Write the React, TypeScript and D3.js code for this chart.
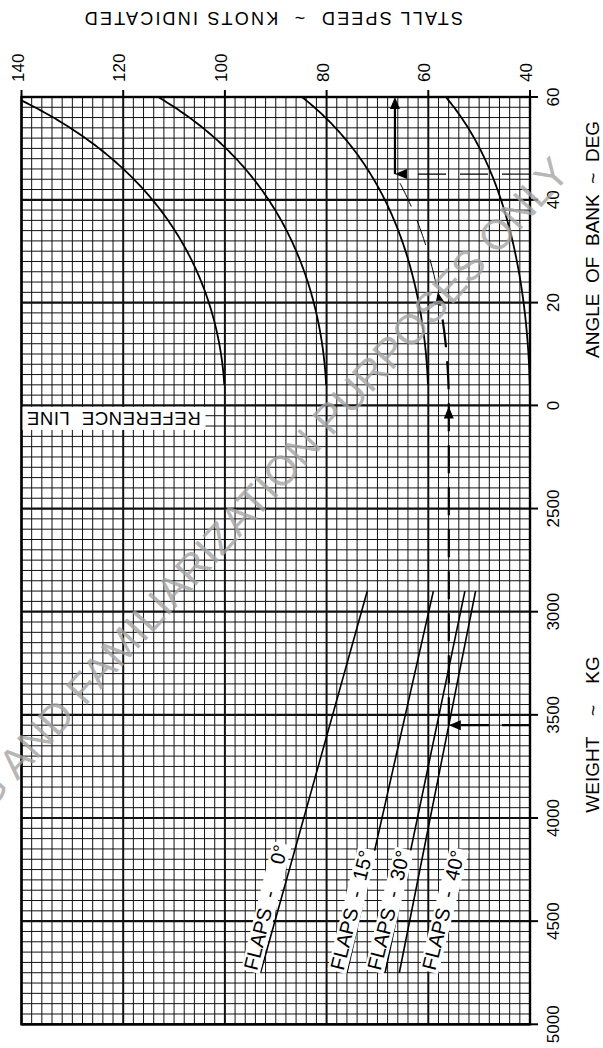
import React from 'react';
import * as d3 from 'd3';

// Stall speed chart: weight / flap setting -> reference line -> angle of bank.

const speedTicks = [140, 120, 100, 80, 60, 40];
const angleTicks = [0, 20, 40, 60];
const weightTicks = [2500, 3000, 3500, 4000, 4500, 5000];

// Wings-level stall speed (kt) at which each angle-of-bank curve starts
const bankRefSpeeds = [100, 80, 60, 40];
const bankCurveFrom = 4; // deg

// Flap lines: stall speed (kt) at the light and heavy end of each line
const flapLabels = ['   0°', '15°', '30°', '40°'];
const flapWeights = [2900, 4750];
const flapSpeedsLight = [72, 59, 52.8, 50.7];
const flapSpeedsHeavy = [93, 76, 68.5, 65.7];

// Worked example
const exampleWeight = 3550;
const exampleFlap = 3;
const exampleBank = 45;
const exampleArrowBank = 22;

const FONT = '"Liberation Sans", Arial, Helvetica, sans-serif';

function measure(text: string, size: number): number {
  const c = document.createElement('canvas').getContext('2d');
  if (!c) return text.length * size * 0.6;
  c.font = `${size}px "Liberation Sans"`;
  return c.measureText(text).width;
}

function arrowHead(tip: [number, number], dir: [number, number], len = 12, half = 5) {
  const n = Math.hypot(dir[0], dir[1]);
  const ux = dir[0] / n, uy = dir[1] / n;
  const bx = tip[0] - ux * len, by = tip[1] - uy * len;
  const px = -uy, py = ux;
  return `${tip[0]},${tip[1]} ${bx + px * half},${by + py * half} ${bx - px * half},${by - py * half}`;
}

export default function App() {
  const W = 603, H = 1048;
  const x = d3.scaleLinear().domain([140, 40]).range([21.5, 530]);
  const yA = d3.scaleLinear().domain([0, 60]).range([405.4, 97]);
  const yW = d3.scaleLinear().domain([2000, 5000]).range([405.4, 1024.3]);
  const left = x(140), right = x(40), top = yA(60), bottom = yW(5000);
  const line = d3.line<[number, number]>();
  const rad = Math.PI / 180;
  const bankSpeed = (v0: number, a: number) => v0 / Math.sqrt(Math.cos(a * rad));

  // grid
  const vLines = d3.range(40, 141, 2);
  const aLines = d3.range(0, 61, 2);
  const wLines = d3.range(2050, 5001, 50);

  const curves = bankRefSpeeds.map((v0) =>
    d3.range(bankCurveFrom, 60.001, 0.25).map((a) => [x(bankSpeed(v0, a)), yA(a)] as [number, number])
  );

  // example path
  const fw = d3.scaleLinear().domain(flapWeights).range([flapSpeedsLight[exampleFlap], flapSpeedsHeavy[exampleFlap]]);
  const vEx = fw(exampleWeight);
  const p1: [number, number] = [x(vEx), yW(exampleWeight)];
  const p0: [number, number] = [x(vEx), yA(0)];
  const lowCurve = d3.range(0, exampleArrowBank + 0.001, 0.5).map((a) => [x(bankSpeed(vEx, a)), yA(a)] as [number, number]);
  const highCurve = d3.range(exampleArrowBank + 1.5, exampleBank + 0.001, 0.5).map((a) => [x(bankSpeed(vEx, a)), yA(a)] as [number, number]);
  const pBank: [number, number] = [x(bankSpeed(vEx, exampleBank)), yA(exampleBank)];
  const pTop: [number, number] = [pBank[0], top];
  const arrowTipA = lowCurve[lowCurve.length - 1];
  const arrowPrev = lowCurve[lowCurve.length - 3];

  const labelSize = 20;
  const labelAngle = -76;
  const labelOffsets = [-3.5, -3.5, -4.5, 36];

  const tickSize = 17;

  return (
    <svg width={W} height={H} viewBox={`0 0 ${W} ${H}`} style={{ position: 'absolute', left: 0, top: 0, background: '#fff' }} fontFamily={FONT}>
      <defs>
        <clipPath id="plot">
          <rect x={left} y={top} width={right - left} height={bottom - top} />
        </clipPath>
      </defs>
      <rect x={0} y={0} width={W} height={H} fill="#fff" />

      {/* minor + major grid */}
      <g stroke="#111">
        {vLines.map((s) => (
          <line key={'v' + s} x1={x(s)} x2={x(s)} y1={top} y2={bottom} strokeWidth={s % 20 === 0 ? 2 : 1} />
        ))}
        {aLines.map((a) => (
          <line key={'a' + a} x1={left} x2={right} y1={yA(a)} y2={yA(a)} strokeWidth={a % 20 === 0 ? 2.2 : 1} />
        ))}
        {wLines.map((w) => (
          <line key={'w' + w} x1={left} x2={right} y1={yW(w)} y2={yW(w)} strokeWidth={w % 500 === 0 ? 2.2 : 1} />
        ))}
      </g>
      <rect x={left} y={top} width={right - left} height={bottom - top} fill="none" stroke="#000" strokeWidth={2.4} />

      {/* ticks */}
      <g stroke="#000" strokeWidth={2}>
        {speedTicks.map((s) => (
          <line key={'ts' + s} x1={x(s)} x2={x(s)} y1={top - 7} y2={top} />
        ))}
        {angleTicks.map((a) => (
          <line key={'ta' + a} x1={right} x2={right + 8} y1={yA(a)} y2={yA(a)} />
        ))}
        {weightTicks.map((w) => (
          <line key={'tw' + w} x1={right} x2={right + 8} y1={yW(w)} y2={yW(w)} />
        ))}
      </g>

      {/* angle of bank curves */}
      <g clipPath="url(#plot)" fill="none" stroke="#000" strokeWidth={1.8}>
        {curves.map((c, i) => (
          <path key={'c' + i} d={line(c) || ''} />
        ))}
      </g>

      {/* flap lines */}
      <g stroke="#000" strokeWidth={1.6}>
        {flapLabels.map((f, i) => (
          <line key={'f' + i} x1={x(flapSpeedsLight[i])} y1={yW(flapWeights[0])} x2={x(flapSpeedsHeavy[i])} y2={yW(flapWeights[1])} />
        ))}
      </g>

      {/* flap labels */}
      {flapLabels.map((f, i) => {
        const txt = `FLAPS  -  ${f}`;
        const w = measure(txt, labelSize);
        const bx = x(flapSpeedsHeavy[i]) + labelOffsets[i];
        const by = yW(flapWeights[1]) - 1.5;
        return (
          <g key={'fl' + i} transform={`translate(${bx},${by}) rotate(${labelAngle})`}>
            <rect x={-2} y={-labelSize * 0.8} width={w + 4} height={labelSize * 0.97} fill="#fff" />
            <text x={0} y={0} fontSize={labelSize} fill="#000" style={{ whiteSpace: 'pre' }}>
              {txt}
            </text>
          </g>
        );
      })}

      {/* reference line label */}
      <rect x={left + 1} y={yA(0) + 1.5} width={183} height={23} fill="#fff" />
      <text transform={`translate(${left + 92},${yA(0) + 7}) rotate(180)`} textAnchor="middle" fontSize={18.5} fill="#000" style={{ whiteSpace: 'pre' }} letterSpacing={0.6}>
        {'REFERENCE  LINE'}
      </text>

      {/* worked example */}
      <g fill="none" stroke="#000">
        <path d={line([[right, p1[1]], [p1[0] + 11, p1[1]]]) || ''} strokeWidth={2.2} strokeDasharray="28 13" />
        <path d={line([p1, p0, ...lowCurve.slice(1, -1)]) || ''} strokeWidth={2.2} strokeDasharray="28 14" />
        <path d={line(highCurve) || ''} strokeWidth={1} strokeDasharray="26 15" />
        <path d={line([[right, pBank[1]], [pBank[0] + 11, pBank[1]]]) || ''} strokeWidth={1.1} strokeDasharray="28 14" />
        <path d={line([pBank, [pTop[0], pTop[1] + 10]]) || ''} strokeWidth={2.2} />
      </g>
      <g fill="#000">
        <polygon points={arrowHead(p1, [-1, 0])} />
        <polygon points={arrowHead([p0[0], p0[1] + 1], [0, -1])} />
        <polygon points={arrowHead(arrowTipA, [arrowTipA[0] - arrowPrev[0], arrowTipA[1] - arrowPrev[1]])} />
        <polygon points={arrowHead(pBank, [-1, 0])} />
        <polygon points={arrowHead(pTop, [0, -1])} />
      </g>

      {/* top axis: stall speed */}
      {speedTicks.map((s) => (
        <text key={'ls' + s} transform={`translate(${x(s) + 2},${top - 15}) rotate(-90)`} fontSize={tickSize} fill="#000">
          {s}
        </text>
      ))}
      <text transform={`translate(${(left + right) / 2 - 3},11.7) rotate(180)`} textAnchor="middle" fontSize={18} fill="#000" letterSpacing={2.2} style={{ whiteSpace: 'pre' }}>
        {'STALL SPEED  ~  KNOTS INDICATED'}
      </text>

      {/* right axis: angle of bank and weight */}
      {angleTicks.map((a) => (
        <text key={'la' + a} transform={`translate(559,${yA(a)}) rotate(-90)`} textAnchor="middle" fontSize={tickSize} fill="#000">
          {a}
        </text>
      ))}
      {weightTicks.map((w) => (
        <text key={'lw' + w} transform={`translate(559,${yW(w)}) rotate(-90)`} textAnchor="middle" fontSize={tickSize} fill="#000">
          {w}
        </text>
      ))}
      <text transform={`translate(599,${yA(32.3)}) rotate(-90)`} textAnchor="middle" fontSize={19} fill="#000" style={{ whiteSpace: 'pre' }}>
        {'ANGLE  OF  BANK  ~  DEG'}
      </text>
      <text transform={`translate(599,${yW(3595)}) rotate(-90)`} textAnchor="middle" fontSize={19} fill="#000" style={{ whiteSpace: 'pre' }}>
        {'WEIGHT    ~    KG'}
      </text>

      {/* watermark */}
      <text transform="translate(190,592) rotate(-47.6)" textAnchor="middle" fontSize={42} fill="#a4a4a4" fillOpacity={0.8}>
        FOR TRAINING AND FAMILIARIZATION PURPOSES ONLY
      </text>
    </svg>
  );
}
